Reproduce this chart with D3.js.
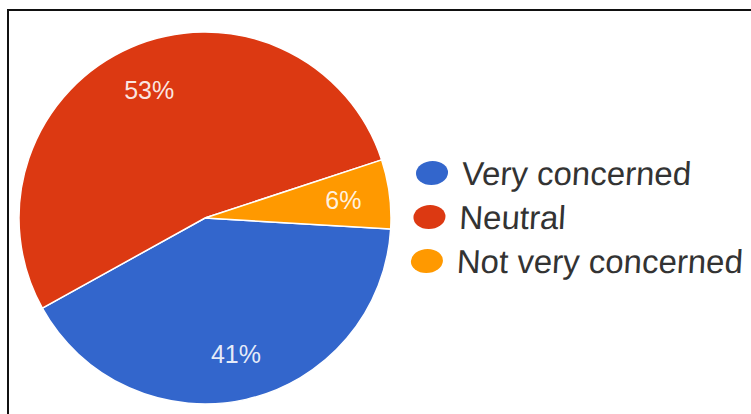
<!DOCTYPE html>
<html>
<head>
<meta charset="utf-8">
<script src="https://cdn.jsdelivr.net/npm/d3@7/dist/d3.min.js"></script>
<style>
  body { margin: 0; background: #fff; }
  svg { display: block; font-family: "Liberation Sans", Arial, sans-serif; }
</style>
</head>
<body>
<svg id="chart" width="751" height="414"></svg>
<script>
const categories = ['Very concerned', 'Neutral', 'Not very concerned']
const values = [41, 53, 6]
const colors = ['#3366cc', '#dc3912', '#ff9900']

const svg = d3.select('#chart')

// frame (only top and left edges show in the photo)
svg.append('path')
    .attr('d', 'M8,414 V10 H751')
    .attr('fill', 'none')
    .attr('stroke', '#111')
    .attr('stroke-width', 2)

const cx = 205, cy = 218, r = 186

const pie = d3.pie()
    .sort(null)
    .value(d => d)
    .startAngle(93.4 * Math.PI / 180)
    .endAngle((93.4 + 360) * Math.PI / 180)

const arcs = pie(values)
const arc = d3.arc().innerRadius(0).outerRadius(r)
const labelArc = d3.arc().innerRadius(r * 0.75).outerRadius(r * 0.75)

const g = svg.append('g').attr('transform', `translate(${cx},${cy})`)

g.selectAll('path.slice')
    .data(arcs)
    .join('path')
    .attr('class', 'slice')
    .attr('d', arc)
    .attr('fill', (d, i) => colors[i])
    .attr('stroke', '#fff')
    .attr('stroke-width', 1.5)

g.selectAll('text.pct')
    .data(arcs)
    .join('text')
    .attr('class', 'pct')
    .attr('transform', d => `translate(${labelArc.centroid(d)})`)
    .attr('text-anchor', 'middle')
    .attr('dominant-baseline', 'central')
    .attr('font-size', 25)
    .attr('fill', '#fff')
    .attr('fill-opacity', 0.88)
    .text(d => d.data + '%')

// legend, slightly skewed like the photo
const legend = svg.append('g')
    .attr('transform', 'translate(432,173) skewX(-3.3)')

const y = d3.scalePoint().domain(categories).range([0, 88])

const item = legend.selectAll('g')
    .data(categories)
    .join('g')
    .attr('transform', d => `translate(0,${y(d)})`)

item.append('ellipse')
    .attr('rx', 16)
    .attr('ry', 12)
    .attr('fill', (d, i) => colors[i])

item.append('text')
    .attr('x', 30)
    .attr('y', 12)
    .attr('font-size', 33)
    .attr('fill', '#333')
    .text(d => d)
</script>
</body>
</html>
